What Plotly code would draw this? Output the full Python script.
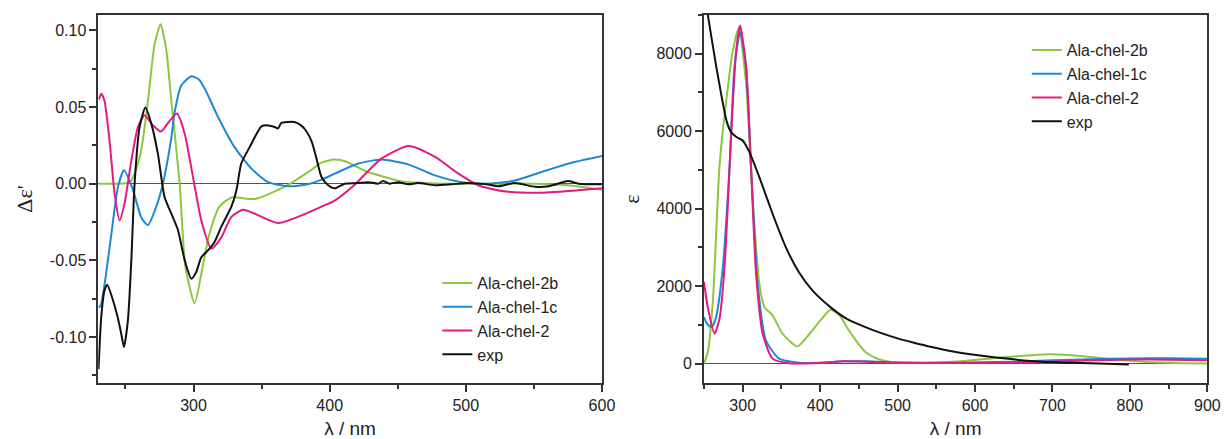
import plotly.graph_objects as go

# ---------------- Left panel: CD spectra (delta epsilon') ----------------
cd_green_x = [230, 245, 252, 254.3, 256.5, 261.6, 266.5, 271.4, 275.8, 280, 283.7, 289.8, 294, 300.8, 306.7,
              311.6, 319, 327.8, 345, 367, 385, 394, 403.5, 412, 420, 428, 440, 453, 470, 490, 520, 551, 575, 600]
cd_green_y = [0, 0, 0.0005, 0.002, 0.006, 0.022, 0.054, 0.091, 0.104, 0.087, 0.054, 0.0, -0.054, -0.078, -0.054,
              -0.033, -0.015, -0.009, -0.010, -0.002, 0.008, 0.0137, 0.0157, 0.0145, 0.011, 0.0076, 0.0045, 0.0015,
              0.0005, 0.0, 0.0, 0.0, -0.001, -0.004]

cd_blue_x = [230.5, 232, 234.6, 239.6, 244.5, 249, 255.5, 261.6, 266.5, 272.6, 277.5, 283.7, 286, 291, 298.4,
             304, 308.2, 318, 330, 342.5, 354.8, 369.5, 384, 394, 403.7, 420.5, 438, 457.7, 477.4, 497, 516.5,
             536, 555.7, 575, 600]
cd_blue_y = [-0.081, -0.079, -0.066, -0.033, -0.002, 0.0087, -0.004, -0.022, -0.027, -0.015, 0.0, 0.03, 0.046,
             0.064, 0.070, 0.068, 0.062, 0.0435, 0.024, 0.0098, 0.001, -0.0017, -0.0004, 0.0026, 0.0065, 0.013,
             0.0157, 0.0126, 0.0054, 0.001, 0.0, 0.002, 0.0076, 0.013, 0.018]

cd_pink_x = [230.5, 232.2, 234.6, 238.3, 242, 245.7, 249.3, 254.3, 259.2, 264, 270.2, 276, 282.4, 287.8, 293.5,
             299.6, 305.7, 313, 320.4, 327.8, 336.4, 345, 362, 379.3, 394, 403.7, 418, 438, 458, 477.4, 494.6,
             509, 526.5, 551, 575, 600]
cd_pink_y = [0.055, 0.0587, 0.054, 0.028, -0.0065, -0.024, -0.013, 0.015, 0.037, 0.0446, 0.038, 0.034, 0.041,
             0.0457, 0.0326, 0.0043, -0.024, -0.0424, -0.035, -0.0217, -0.017, -0.0196, -0.0257, -0.0207, -0.015,
             -0.011, -0.001, 0.0163, 0.0245, 0.0174, 0.0065, -0.001, -0.0048, -0.006, -0.0048, -0.003]

cd_exp_x = [230.2, 232.2, 234.6, 236.6, 240.8, 244.5, 246.9, 248.9, 251.8, 254.3, 256.7, 260.4, 264.6, 269, 273.8,
            278.7, 283.7, 288.6, 293.5, 298.4, 302, 305.7, 310.6, 315.4, 320.4, 327.8, 331.5, 335, 341.3, 349.9,
            354.8, 359.6, 362, 364.5, 374, 379, 383, 387, 390, 394, 398.9, 403.8, 411, 420.5, 428.3, 435.6,
            439.3, 444, 450.3, 457.7, 465, 477.4, 489.6, 501.8, 516.5, 523.9, 536, 551, 560.8, 575, 582.8, 600]
cd_exp_y = [-0.121, -0.087, -0.0696, -0.066, -0.076, -0.088, -0.098, -0.1065, -0.089, -0.05, 0.0, 0.037, 0.0496,
            0.039, 0.0196, -0.0087, -0.0196, -0.0304, -0.05, -0.062, -0.0576, -0.048, -0.0435, -0.038, -0.028,
            -0.015, -0.0043, 0.013, 0.024, 0.0374, 0.038, 0.037, 0.036, 0.0396, 0.0402, 0.038, 0.034, 0.027,
            0.0174, 0.0043, -0.001, -0.003, 0.0, 0.0004, 0.001, 0.0, 0.0018, 0.0, 0.001, -0.0004, 0.0004, -0.001,
            -0.0004, 0.0004, -0.0006, -0.0017, 0.0004, -0.002, -0.0017, 0.0017, 0.0, -0.0004]

# ---------------- Right panel: UV-vis spectra (epsilon) ----------------
uv_green_x = [250, 255, 261.6, 270, 278.8, 287.4, 295, 304.4, 313, 321.5, 328, 338.6, 351.4, 370.7, 390, 413.5,
              425, 437, 448, 458.5, 470, 480, 501, 543, 587, 629.6, 672, 698, 736.6, 779.4, 822, 860, 900]
uv_green_y = [0, 300, 1633, 5072, 6794, 8083, 8668, 7224, 4213, 2064, 1460, 1246, 774, 446, 859, 1393,
              1250, 860, 550, 300, 160, 86, 20, 25, 70, 155, 215, 240, 198, 112, 43, 15, 5]

uv_blue_x = [250, 254, 259.5, 265, 274.4, 283, 289.4, 296.7, 304.4, 310.8, 319.3, 330, 347, 370, 400, 430, 460,
             500, 550, 600, 650, 700, 750, 800, 850, 900]
uv_blue_y = [1200, 1030, 944, 1150, 2494, 5072, 7653, 8560, 7653, 5072, 2064, 602, 129, 30, 20, 60, 60, 30, 20,
             30, 50, 85, 115, 135, 140, 125]

uv_pink_x = [250, 255, 263.7, 270, 276.6, 285.2, 291.6, 296.7, 304.4, 310.8, 317.3, 325.8, 338.6, 360, 400, 430,
             460, 500, 600, 650, 700, 750, 800, 850, 900]
uv_pink_y = [2107, 1450, 774, 1150, 2494, 5933, 8083, 8728, 7653, 5072, 2322, 774, 129, 10, 20, 60, 50, 20,
             20, 30, 50, 85, 105, 100, 90]

uv_exp_x = [250, 255.1, 266, 279, 285, 292, 300, 308.7, 321.5, 338.6, 355.7, 372, 390, 415.6, 435, 458.5, 480,
            501, 520, 544, 570, 604, 630, 672, 715, 760, 798.6]
uv_exp_y = [9600, 8989, 7656, 6280, 5976, 5850, 5761, 5459, 4814, 3870, 3008, 2380, 1890, 1420, 1150, 944, 780,
            645, 545, 428, 320, 214, 150, 70, 25, 5, -20]

series_names = ["Ala-chel-2b", "Ala-chel-1c", "Ala-chel-2", "exp"]
series_colors = ["#8DC63F", "#1B8AD3", "#E6197E", "#111111"]

left_xticks = [300, 400, 500, 600]
left_xticktext = ["300", "400", "500", "600"]
left_yticks = [0.10, 0.05, 0.0, -0.05, -0.10]
left_yticktext = ["0.10", "0.05", "0.00", "-0.05", "-0.10"]
right_xticks = [300, 400, 500, 600, 700, 800, 900]
right_xticktext = ["300", "400", "500", "600", "700", "800", "900"]
right_yticks = [0, 2000, 4000, 6000, 8000]
right_yticktext = ["0", "2000", "4000", "6000", "8000"]

W, H = 1226, 439
fig = go.Figure()

cd_data = [(cd_green_x, cd_green_y), (cd_blue_x, cd_blue_y), (cd_pink_x, cd_pink_y), (cd_exp_x, cd_exp_y)]
uv_data = [(uv_green_x, uv_green_y), (uv_blue_x, uv_blue_y), (uv_pink_x, uv_pink_y), (uv_exp_x, uv_exp_y)]

for (x, y), name, col in zip(cd_data, series_names, series_colors):
    fig.add_trace(go.Scatter(x=x, y=y, mode="lines", name=name, xaxis="x", yaxis="y", legend="legend",
                             line=dict(color=col, width=2, shape="spline", smoothing=0.6)))
for (x, y), name, col in zip(uv_data, series_names, series_colors):
    fig.add_trace(go.Scatter(x=x, y=y, mode="lines", name=name, xaxis="x2", yaxis="y2", legend="legend2",
                             line=dict(color=col, width=2, shape="spline", smoothing=0.6)))

ydom = [1 - 383 / H, 1 - 15 / H]
tickfont = dict(family="Liberation Sans, Arial, sans-serif", size=16, color="#222")
axis_common = dict(showline=True, linecolor="#333", linewidth=1.5, mirror=True, ticks="outside",
                   ticklen=7, tickwidth=1.5, tickcolor="#333", showgrid=False, tickfont=tickfont)
serif = "Liberation Serif, Times New Roman, serif"

fig.update_layout(
    width=W, height=H, margin=dict(l=0, r=0, t=0, b=0),
    paper_bgcolor="white", plot_bgcolor="white",
    font=dict(family="Liberation Sans, Arial, sans-serif", color="#222"),
    xaxis=dict(domain=[99.3 / W, 608.4 / W], range=[230, 600], anchor="y",
               tickvals=left_xticks, ticktext=left_xticktext,
               minor=dict(ticks="outside", dtick=50, tick0=0, ticklen=4, tickwidth=1.5, tickcolor="#333"),
               zeroline=False,
               title=dict(text="λ / nm", font=dict(size=19, color="#222"), standoff=10),
               **axis_common),
    yaxis=dict(domain=ydom, range=[-0.13, 0.11], anchor="x",
               tickvals=left_yticks, ticktext=left_yticktext,
               minor=dict(ticks="outside", dtick=0.025, tick0=0, ticklen=4, tickwidth=1.5, tickcolor="#333"),
               zeroline=True, zerolinecolor="#555", zerolinewidth=1.2,
               title=dict(text="Δε'", font=dict(family=serif, size=22, color="#222"), standoff=11),
               **axis_common),
    xaxis2=dict(domain=[711.5 / W, 1220.3 / W], range=[250, 900], anchor="y2",
                tickvals=right_xticks, ticktext=right_xticktext,
                minor=dict(ticks="outside", dtick=50, tick0=0, ticklen=4, tickwidth=1.5, tickcolor="#333"),
                zeroline=False,
                title=dict(text="λ / nm", font=dict(size=19, color="#222"), standoff=10),
                **axis_common),
    yaxis2=dict(domain=ydom, range=[-500, 9000], anchor="x2",
                tickvals=right_yticks, ticktext=right_yticktext,
                minor=dict(ticks="outside", dtick=1000, tick0=0, ticklen=4, tickwidth=1.5, tickcolor="#333"),
                zeroline=True, zerolinecolor="#555", zerolinewidth=1.2,
                title=dict(text="ε", font=dict(family=serif, size=22, color="#222"), standoff=11),
                **axis_common),
    legend=dict(x=442 / W, y=1 - 266 / H, xanchor="left", yanchor="top", bgcolor="rgba(0,0,0,0)",
                borderwidth=0, font=dict(size=16, color="#222"), tracegroupgap=0),
    legend2=dict(x=1037.8 / W, y=1 - 33 / H, xanchor="left", yanchor="top", bgcolor="rgba(0,0,0,0)",
                 borderwidth=0, font=dict(size=16, color="#222"), tracegroupgap=0),
)

fig.write_html(
    "out.html",
    config={"displayModeBar": False, "responsive": False},
    post_script=("document.documentElement.style.overflow='hidden';"
                 "document.body.style.margin='0';document.body.style.overflow='hidden';"),
)
